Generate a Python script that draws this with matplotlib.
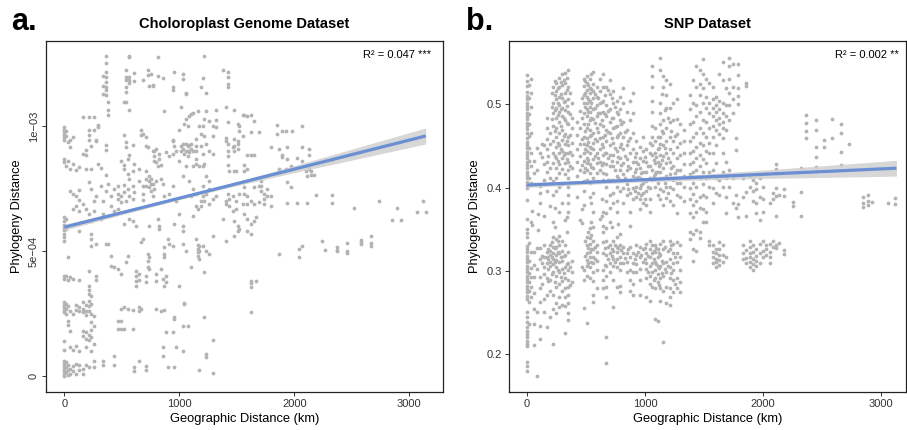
import numpy as np
import matplotlib
matplotlib.use("Agg")
import matplotlib.pyplot as plt

plt.rcParams['font.family'] = ['Liberation Sans', 'DejaVu Sans']

# ---- panel a: chloroplast genome (y in units of 1e-4) ----
# each entry: geographic distance (km), phylogeny distances at that distance
a_streaks = [
    (0, [9.95, 9.85, 9.75, 9.65, 9.55, 9.45, 8.7, 8.55, 6.35, 6.2, 6.05, 5.95, 5.85, 5.7, 5.55, 5.42,
         4.02, 3.9, 2.96, 2.85, 2.75, 2.65, 2.55, 1.42, 1.05, 0.62, 0.5, 0.4, 0.3, 0.2, 0.1, 0.02]),
    (15, [9.8, 9.6, 8.4, 6.3, 5.9, 4.0, 2.9, 2.7, 2.5, 0.55, 0.35, 0.15]),
    (30, [9.35, 8.6, 4.78, 3.85, 2.8, 2.2, 2.05, 0.45, 0.25, 0.05]),
    (50, [9.45, 9.18, 8.3, 7.4, 3.95, 2.6, 1.8, 1.15, 0.3, 0.1]),
    (75, [9.58, 8.5, 7.3, 6.7, 3.9, 2.5, 1.05, 0.4, 0.2]),
    (100, [8.25, 7.2, 6.8, 2.85, 2.65, 1.2, 0.5, 0.08]),
    (130, [8.35, 7.45, 7.05, 6.6, 5.82, 3.85, 2.75, 2.6, 1.0, 0.45, 0.25]),
    (160, [10.35, 8.9, 6.9, 2.95, 2.7, 2.55, 1.8, 1.6, 0.3, 0.1]),
    (190, [9.05, 8.85, 8.3, 6.7, 2.85, 2.6, 2.45, 1.75, 1.5, 1.15, 0.45]),
    (218, [10.36, 9.85, 9.65, 9.45, 7.78, 6.5, 4.22, 3.62, 3.45, 3.3, 3.02, 2.8, 2.6, 1.65, 1.45, 0.35]),
    (235, [9.2, 8.3, 7.5, 6.22, 5.69, 5.5, 5.22, 3.2, 2.9, 2.5, 2.15, 1.85, 1.55, 1.0]),
    (261, [10.36, 9.85, 7.0, 6.6, 2.4, 2.0, 1.3, 0.6, 0.35]),
    (276, [9.45, 9.4, 7.2, 5.3, 4.0, 3.85]),
    (290, [9.95, 10.05, 8.5]),
    (320, [8.32, 7.6, 6.3]),
    (340, [12.0, 11.6, 11.3, 7.0, 6.5, 0.62, 0.45]),
    (363, [12.81, 12.54, 12.18, 11.98, 11.78, 11.58, 11.45, 11.25, 9.25, 9.05, 8.05, 7.4, 5.3]),
    (377, [10.98, 10.65, 10.45, 7.7, 5.3]),
    (406, [7.2, 6.8, 4.42, 4.8]),
    (435, [7.5, 6.6, 4.35, 0.8, 0.45]),
    (464, [7.6, 7.3, 7.1, 6.7, 2.22, 1.89, 4.3]),
    (493, [8.6, 7.2, 6.95, 4.1, 2.7, 2.22, 1.89]),
    (523, [10.98, 9.65, 8.45, 8.3, 7.65, 7.35, 6.1, 2.75, 1.89]),
    (537, [12.25, 11.98, 11.85, 11.58, 11.38, 10.98, 9.35, 9.18, 4.56, 7.0]),
    (551, [4.8, 8.7, 8.1, 7.5, 2.7]),
    (566, [12.81, 12.78, 11.98, 11.85, 11.72, 10.65, 8.85, 7.9, 7.2, 6.3]),
    (595, [9.25, 8.2, 7.6, 7.1, 2.65, 1.89, 6.2]),
    (609, [12.12, 11.8, 8.5, 7.35, 0.35, 0.2]),
    (624, [4.22, 4.0, 3.8, 3.62, 6.0]),
    (653, [8.3, 7.8, 2.75, 2.6, 0.62, 4.1, 3.85]),
    (667, [9.85, 9.65, 5.35, 2.7]),
    (682, [11.85, 9.7, 7.6, 7.3, 7.05, 5.5]),
    (711, [9.58, 9.2, 8.2, 7.9, 7.6, 0.4, 0.25, 4.0, 3.75]),
    (725, [12.25, 12.05, 9.18, 4.9, 4.6, 4.35]),
    (740, [11.6, 8.0, 7.8, 7.55, 4.76, 4.3, 6.0]),
    (754, [12.1, 7.9, 7.7, 7.4]),
    (769, [11.65, 11.6, 9.0, 7.7, 7.2]),
    (783, [9.0, 8.8, 8.6, 7.5]),
    (798, [9.1, 8.55, 7.8, 2.7, 4.1, 3.8]),
    (812, [12.76, 12.0, 8.4, 6.3]),
    (827, [8.9, 8.7, 6.0, 5.9]),
    (841, [8.45, 7.9, 4.3, 2.6]),
    (856, [11.92, 7.7, 1.16, 0.8, 3.9]),
    (870, [10.61, 7.2, 5.15, 4.9, 4.76, 2.65, 3.6]),
    (885, [8.98, 1.76, 3.75, 4.0]),
    (899, [0.38, 5.5]),
    (914, [8.8, 7.3, 5.3]),
    (943, [11.58, 11.45, 9.45, 9.4, 8.9, 7.6, 1.76, 5.2]),
    (957, [12.18, 9.2, 2.36, 2.3, 0.38, 6.1]),
    (972, [9.0, 1.16, 7.0]),
    (995, [9.85, 8.6, 6.5, 3.6]),
    (1015, [10.78, 9.2, 9.0]),
    (1030, [12.1, 11.9, 9.3, 9.1, 8.0, 6.0, 5.8, 2.02, 1.0, 5.3]),
    (1044, [10.1, 8.9, 2.92, 2.9]),
    (1059, [11.32, 11.3, 10.3, 9.3, 9.0, 8.4, 5.0]),
    (1074, [10.0, 9.2, 9.0, 8.8, 2.02]),
    (1088, [10.4, 9.25, 8.95, 7.8]),
    (1105, [10.5, 9.3, 9.1, 4.35, 7.2]),
    (1117, [10.52, 9.0, 8.4, 7.5, 6.4]),
    (1146, [9.5, 9.2, 9.0, 8.7, 8.5, 7.3, 6.8, 5.5]),
    (1160, [10.6, 5.25, 5.1, 4.95, 4.8, 6.7]),
    (1175, [10.0, 8.4, 5.2, 5.0, 4.7, 0.25]),
    (1189, [11.58, 9.7, 9.2, 7.0, 6.8]),
    (1204, [11.92, 10.0, 8.9, 8.4, 7.6, 7.2, 5.2]),
    (1218, [12.81, 10.3, 9.6, 8.5, 7.0, 4.18, 2.36]),
    (1233, [11.32, 10.6, 9.3, 8.0, 7.3, 0.9, 0.75, 5.0]),
    (1262, [10.2, 9.0, 7.8, 7.5, 6.9, 4.9]),
    (1291, [10.0, 9.6, 8.9, 7.1, 5.62, 1.45, 0.12]),
    (1320, [10.65, 10.25, 9.98, 7.2]),
    (1378, [12.25, 6.3]),
    (1407, [10.78, 9.52, 9.4, 7.0, 6.9, 5.4]),
    (1421, [12.18, 11.95, 11.7, 11.58, 10.18, 9.3, 9.0, 8.8, 8.45, 7.3]),
    (1436, [8.2, 7.1, 6.8]),
    (1465, [9.18, 7.2, 6.6]),
    (1479, [10.65, 9.5, 9.2, 9.0, 8.2, 5.62, 6.2]),
    (1494, [8.2, 7.0, 6.7]),
    (1508, [10.1, 9.4, 9.3, 9.1, 6.0, 5.8]),
    (1523, [10.0, 9.8, 7.3, 5.9]),
    (1550, [10.45, 9.6, 6.9]),
    (1563, [10.45, 8.45, 8.2, 7.58, 7.3, 6.49]),
    (1592, [10.4, 8.85, 8.3, 7.2, 6.9, 6.3, 5.8]),
    (1621, [10.45, 9.78, 8.85, 7.0, 6.1, 5.7, 3.82, 3.74, 3.56, 2.58]),
    (1650, [10.2, 8.85, 7.58, 6.9, 6.2]),
    (1670, [3.81, 6.35]),
    (1693, [9.78, 6.95, 7.6]),
    (1708, [7.8, 7.6, 7.4]),
    (1737, [7.3, 7.1, 6.9]),
    (1766, [7.5, 7.2]),
    (1795, [9.18, 7.2, 6.8]),
    (1853, [10.05, 9.7]),
    (1864, [9.1, 8.3, 8.2, 4.89]),
    (1896, [9.8, 8.85, 8.75]),
    (1925, [9.8, 8.3]),
    (1940, [9.18, 8.7, 7.78, 6.94]),
    (1969, [7.58, 8.4]),
    (1983, [9.8, 8.3]),
    (2027, [8.72, 6.94]),
    (2041, [5.09, 4.76]),
    (2070, [10.01, 9.18, 8.6, 5.2]),
    (2099, [8.4, 8.2]),
    (2114, [6.94, 8.0]),
    (2128, [9.08, 8.85, 8.3]),
    (2143, [8.2, 8.05]),
    (2172, [8.05]),
    (2186, [7.25]),
    (2244, [5.4]),
    (2265, [5.05]),
    (2331, [8.65, 7.25, 6.94]),
    (2375, [5.16, 5.05, 5.0]),
    (2456, [5.32, 5.02, 4.92]),
    (2520, [6.72]),
    (2583, [5.45, 5.35, 5.29]),
    (2670, [5.62, 5.32, 5.22]),
    (2737, [7.02]),
    (2850, [6.26]),
    (2897, [6.72]),
    (2925, [6.26]),
    (3070, [6.58]),
    (3123, [7.02]),
    (3143, [6.58]),
]
a_fit_x = [0, 3143]
a_fit_y = [5.96, 9.61]
a_band_x = [0, 500, 1000, 1500, 2000, 2500, 3143]
a_band_half = [0.12, 0.08, 0.06, 0.08, 0.14, 0.22, 0.32]

# ---- panel b: SNP dataset ----
b_streaks = [
    (0, [0.535, 0.528, 0.522, 0.515, 0.51, 0.506, 0.502, 0.498, 0.494, 0.49, 0.486, 0.482, 0.478, 0.474,
         0.47, 0.466, 0.46, 0.455, 0.451, 0.447, 0.443, 0.439, 0.435, 0.431, 0.427, 0.423, 0.419, 0.415,
         0.411, 0.407, 0.403, 0.40, 0.385, 0.362, 0.35, 0.345, 0.34, 0.33, 0.326, 0.322, 0.318, 0.314,
         0.31, 0.306, 0.302, 0.298, 0.294, 0.29, 0.286, 0.282, 0.278, 0.274, 0.27, 0.266, 0.25, 0.245,
         0.238, 0.232, 0.228, 0.224, 0.22, 0.216, 0.212, 0.209, 0.19, 0.185, 0.18]),
    (15, [0.523, 0.507, 0.488, 0.476, 0.462, 0.447, 0.432, 0.412, 0.333, 0.312, 0.297, 0.287, 0.276, 0.263, 0.236]),
    (35, [0.531, 0.513, 0.497, 0.466, 0.441, 0.426, 0.406, 0.358, 0.322, 0.303, 0.292, 0.281, 0.268]),
    (45, [0.372, 0.355]),
    (60, [0.432, 0.417, 0.323, 0.307, 0.292, 0.273, 0.254, 0.236, 0.211]),
    (82, [0.447, 0.421, 0.327, 0.302, 0.251, 0.173]),
    (95, [0.368, 0.349]),
    (110, [0.442, 0.402, 0.394, 0.381, 0.327, 0.314, 0.292, 0.279, 0.262, 0.234, 0.218]),
    (125, [0.452, 0.437, 0.318, 0.309, 0.284]),
    (140, [0.451, 0.428, 0.409, 0.366, 0.331, 0.316, 0.304, 0.296, 0.266, 0.251]),
    (167, [0.483, 0.471, 0.458, 0.446, 0.431, 0.419, 0.396, 0.323, 0.317, 0.309, 0.291, 0.271, 0.232]),
    (180, [0.438, 0.326, 0.314, 0.302, 0.288]),
    (195, [0.466, 0.452, 0.424, 0.411, 0.378, 0.331, 0.324, 0.319, 0.311, 0.306, 0.289, 0.276, 0.245]),
    (210, [0.513, 0.497, 0.482, 0.334, 0.317, 0.296]),
    (223, [0.521, 0.502, 0.489, 0.474, 0.456, 0.441, 0.429, 0.408, 0.391, 0.358, 0.341, 0.329, 0.321,
           0.314, 0.308, 0.298, 0.271, 0.254, 0.212]),
    (237, [0.528, 0.511, 0.493, 0.468, 0.438, 0.376, 0.352, 0.327, 0.311, 0.286]),
    (250, [0.526, 0.516, 0.506, 0.496, 0.484, 0.472, 0.461, 0.449, 0.436, 0.424, 0.411, 0.396, 0.338,
           0.328, 0.319, 0.313, 0.304, 0.294, 0.281, 0.261, 0.249]),
    (262, [0.519, 0.501, 0.487, 0.453, 0.432, 0.336, 0.323, 0.301]),
    (275, [0.532, 0.521, 0.509, 0.499, 0.491, 0.479, 0.466, 0.451, 0.442, 0.428, 0.418, 0.401, 0.371,
           0.342, 0.331, 0.321, 0.311, 0.299, 0.284, 0.269, 0.256]),
    (288, [0.527, 0.512, 0.494, 0.474, 0.446, 0.316, 0.293]),
    (300, [0.536, 0.523, 0.507, 0.496, 0.486, 0.469, 0.457, 0.444, 0.436, 0.422, 0.404, 0.381, 0.336,
           0.324, 0.312, 0.302, 0.288, 0.276, 0.259]),
    (312, [0.529, 0.503, 0.483, 0.462, 0.439, 0.318, 0.297]),
    (325, [0.538, 0.526, 0.514, 0.504, 0.493, 0.481, 0.464, 0.452, 0.441, 0.429, 0.416, 0.361, 0.331,
           0.319, 0.304, 0.291, 0.279, 0.268, 0.258, 0.225]),
    (337, [0.532, 0.517, 0.498, 0.477, 0.456, 0.434, 0.365, 0.347, 0.308]),
    (350, [0.541, 0.521, 0.506, 0.491, 0.476, 0.461, 0.451, 0.441, 0.431, 0.421, 0.411, 0.401, 0.391,
           0.381, 0.371, 0.322, 0.309, 0.301, 0.289, 0.281, 0.271, 0.261, 0.249, 0.241]),
    (365, [0.513, 0.488, 0.463, 0.443, 0.426, 0.304, 0.283]),
    (380, [0.501, 0.484, 0.471, 0.454, 0.439, 0.424, 0.312, 0.299, 0.286]),
    (420, [0.479, 0.463, 0.446, 0.431, 0.414, 0.389]),
    (450, [0.492, 0.471, 0.452, 0.438, 0.421, 0.361]),
    (465, [0.507, 0.483, 0.458, 0.427, 0.374, 0.357, 0.304]),
    (480, [0.531, 0.522, 0.511, 0.502, 0.489, 0.476, 0.461, 0.452, 0.441, 0.432, 0.419, 0.408, 0.396,
           0.379, 0.301, 0.289, 0.255]),
    (493, [0.528, 0.514, 0.497, 0.468, 0.446, 0.423, 0.336, 0.318]),
    (505, [0.534, 0.526, 0.517, 0.509, 0.501, 0.494, 0.486, 0.472, 0.459, 0.451, 0.444, 0.436, 0.429,
           0.421, 0.409, 0.341, 0.331, 0.321, 0.313, 0.306, 0.294, 0.237]),
    (518, [0.523, 0.506, 0.491, 0.476, 0.455, 0.433, 0.347, 0.327, 0.309]),
    (530, [0.531, 0.519, 0.513, 0.504, 0.497, 0.491, 0.481, 0.469, 0.462, 0.449, 0.441, 0.428, 0.418,
           0.406, 0.389, 0.351, 0.339, 0.332, 0.323, 0.316, 0.304, 0.291]),
    (545, [0.536, 0.518, 0.501, 0.484, 0.463, 0.447, 0.425, 0.381, 0.358, 0.343, 0.326, 0.311]),
    (560, [0.539, 0.524, 0.516, 0.507, 0.494, 0.482, 0.466, 0.454, 0.446, 0.434, 0.424, 0.411, 0.394,
           0.371, 0.352, 0.336, 0.326, 0.317, 0.309, 0.299, 0.288, 0.271, 0.262]),
    (575, [0.512, 0.496, 0.478, 0.458, 0.438, 0.329, 0.314]),
    (590, [0.521, 0.509, 0.499, 0.486, 0.471, 0.456, 0.441, 0.429, 0.418, 0.408, 0.331, 0.322, 0.312,
           0.301, 0.279]),
    (605, [0.508, 0.489, 0.467, 0.436]),
    (618, [0.531, 0.516, 0.502, 0.489, 0.476, 0.459, 0.446, 0.431, 0.421, 0.362]),
    (632, [0.503, 0.481, 0.452, 0.427, 0.386, 0.366]),
    (646, [0.536, 0.521, 0.504, 0.491, 0.474, 0.461, 0.449, 0.439, 0.429, 0.418, 0.409, 0.371, 0.354,
           0.346, 0.334, 0.321, 0.301, 0.289, 0.279]),
    (660, [0.511, 0.488, 0.463, 0.442, 0.327, 0.307]),
    (674, [0.521, 0.499, 0.486, 0.469, 0.456, 0.441, 0.428, 0.416, 0.401, 0.384, 0.369, 0.351, 0.336,
           0.319, 0.306, 0.294, 0.281, 0.269, 0.221, 0.189]),
    (688, [0.517, 0.492, 0.467, 0.436, 0.409, 0.328, 0.314]),
    (703, [0.529, 0.512, 0.494, 0.479, 0.466, 0.451, 0.439, 0.426, 0.409, 0.391, 0.376, 0.359, 0.331,
           0.321, 0.309, 0.299]),
    (717, [0.508, 0.483, 0.459, 0.432, 0.353, 0.326, 0.318]),
    (730, [0.516, 0.501, 0.484, 0.471, 0.454, 0.439, 0.426, 0.409, 0.394, 0.381, 0.336, 0.324, 0.314,
           0.306, 0.289, 0.257]),
    (745, [0.497, 0.473, 0.448, 0.421, 0.331, 0.311]),
    (759, [0.504, 0.491, 0.474, 0.461, 0.444, 0.431, 0.414, 0.401, 0.384, 0.371, 0.341, 0.329, 0.323,
           0.314, 0.304, 0.281]),
    (773, [0.488, 0.463, 0.437, 0.411, 0.356, 0.327]),
    (787, [0.509, 0.494, 0.481, 0.466, 0.449, 0.436, 0.421, 0.409, 0.396, 0.344, 0.331, 0.317, 0.309,
           0.301, 0.282, 0.274]),
    (800, [0.476, 0.452, 0.427, 0.325]),
    (816, [0.519, 0.501, 0.479, 0.461, 0.446, 0.429, 0.416, 0.399, 0.381, 0.329, 0.321, 0.309]),
    (830, [0.467, 0.438, 0.412, 0.315]),
    (845, [0.491, 0.469, 0.451, 0.434, 0.421, 0.404, 0.391, 0.321, 0.311, 0.299]),
    (860, [0.456, 0.426, 0.398, 0.326]),
    (875, [0.504, 0.481, 0.459, 0.441, 0.424, 0.409, 0.394, 0.371, 0.354, 0.329, 0.316, 0.301, 0.289, 0.276]),
    (900, [0.514, 0.489, 0.466, 0.446, 0.431, 0.414, 0.399, 0.386, 0.321, 0.309, 0.298, 0.284, 0.271]),
    (915, [0.437, 0.419, 0.396, 0.314]),
    (928, [0.456, 0.441, 0.431, 0.422, 0.411, 0.401, 0.389, 0.331, 0.319, 0.308, 0.299]),
    (942, [0.428, 0.413, 0.394, 0.323]),
    (955, [0.449, 0.436, 0.424, 0.412, 0.399, 0.386, 0.374, 0.329, 0.316, 0.302, 0.289, 0.271]),
    (970, [0.418, 0.403, 0.391, 0.319]),
    (985, [0.461, 0.444, 0.432, 0.419, 0.406, 0.394, 0.381, 0.326, 0.311]),
    (1000, [0.437, 0.409, 0.386, 0.327, 0.314]),
    (1013, [0.446, 0.431, 0.419, 0.408, 0.396, 0.379, 0.332, 0.321, 0.309, 0.302, 0.291, 0.269]),
    (1027, [0.426, 0.401, 0.318, 0.298]),
    (1040, [0.454, 0.441, 0.426, 0.411, 0.399, 0.386, 0.371, 0.336, 0.326, 0.316, 0.306, 0.294, 0.284, 0.264]),
    (1060, [0.546, 0.534, 0.521, 0.504, 0.491, 0.474, 0.461, 0.451, 0.439, 0.421, 0.409, 0.331, 0.321,
            0.309, 0.299, 0.281]),
    (1073, [0.433, 0.414, 0.324, 0.314, 0.289]),
    (1085, [0.471, 0.456, 0.442, 0.429, 0.416, 0.401, 0.331, 0.322, 0.311, 0.301, 0.291, 0.279, 0.242]),
    (1098, [0.437, 0.419, 0.327, 0.308]),
    (1110, [0.461, 0.446, 0.431, 0.419, 0.406, 0.391, 0.326, 0.316, 0.306, 0.296, 0.286, 0.24]),
    (1120, [0.447, 0.426, 0.321, 0.303, 0.283]),
    (1130, [0.556, 0.541, 0.502, 0.489, 0.476, 0.461, 0.452, 0.439, 0.428, 0.419, 0.412, 0.398, 0.386,
            0.332, 0.319, 0.306, 0.291, 0.279, 0.264]),
    (1143, [0.512, 0.468, 0.433, 0.312, 0.297]),
    (1155, [0.534, 0.521, 0.481, 0.466, 0.451, 0.438, 0.424, 0.411, 0.396, 0.379, 0.336, 0.326, 0.309,
            0.294, 0.276, 0.214]),
    (1168, [0.493, 0.447, 0.406, 0.328, 0.302]),
    (1182, [0.529, 0.511, 0.496, 0.471, 0.456, 0.441, 0.429, 0.414, 0.401, 0.388, 0.311, 0.299, 0.281, 0.261]),
    (1196, [0.483, 0.436, 0.394, 0.324, 0.306]),
    (1210, [0.524, 0.496, 0.479, 0.461, 0.446, 0.431, 0.416, 0.401, 0.384, 0.336, 0.326, 0.314, 0.304,
            0.291, 0.279, 0.269, 0.259]),
    (1225, [0.468, 0.423, 0.331, 0.297]),
    (1240, [0.501, 0.481, 0.456, 0.441, 0.426, 0.409, 0.398, 0.379, 0.332, 0.321, 0.309, 0.301, 0.289, 0.274]),
    (1255, [0.462, 0.417, 0.316, 0.284]),
    (1270, [0.506, 0.482, 0.464, 0.449, 0.436, 0.421, 0.406, 0.391, 0.369, 0.334, 0.321, 0.311, 0.291, 0.279]),
    (1300, [0.476, 0.454, 0.439, 0.421, 0.406, 0.389, 0.331, 0.316, 0.301, 0.286, 0.274]),
    (1330, [0.469, 0.456, 0.441, 0.428, 0.414, 0.401, 0.384]),
    (1380, [0.511, 0.494, 0.476, 0.456, 0.441, 0.428, 0.416, 0.399, 0.386, 0.369, 0.346, 0.338]),
    (1407, [0.529, 0.502, 0.479, 0.461, 0.444, 0.431, 0.419, 0.406, 0.392, 0.379, 0.364, 0.344, 0.326, 0.312]),
    (1435, [0.546, 0.521, 0.499, 0.486, 0.466, 0.449, 0.436, 0.421, 0.401, 0.384, 0.371, 0.349, 0.324]),
    (1465, [0.541, 0.524, 0.511, 0.491, 0.471, 0.454, 0.439, 0.426, 0.411, 0.389, 0.376, 0.346, 0.339]),
    (1492, [0.554, 0.536, 0.519, 0.501, 0.481, 0.466, 0.451, 0.434, 0.419, 0.404, 0.391, 0.374, 0.359]),
    (1520, [0.531, 0.509, 0.496, 0.479, 0.461, 0.444, 0.429, 0.411, 0.389, 0.371, 0.358]),
    (1545, [0.526, 0.501, 0.489, 0.471, 0.454, 0.441, 0.419, 0.401, 0.336, 0.331]),
    (1577, [0.521, 0.506, 0.496, 0.486, 0.474, 0.461, 0.441, 0.421, 0.399, 0.381, 0.331, 0.323, 0.316, 0.309]),
    (1605, [0.509, 0.499, 0.491, 0.481, 0.469, 0.451, 0.429, 0.411, 0.394, 0.326, 0.321, 0.314, 0.311, 0.304]),
    (1630, [0.536, 0.504, 0.494, 0.484, 0.476, 0.464, 0.409, 0.391, 0.334, 0.326, 0.319, 0.313, 0.307]),
    (1660, [0.551, 0.529, 0.501, 0.489, 0.479, 0.471, 0.459, 0.441, 0.419, 0.401, 0.331, 0.319, 0.311]),
    (1690, [0.519, 0.499, 0.486, 0.469, 0.431, 0.411, 0.389, 0.369, 0.316]),
    (1710, [0.556, 0.546, 0.531, 0.514, 0.499, 0.481, 0.421, 0.401]),
    (1746, [0.549, 0.521, 0.506, 0.489, 0.411, 0.381]),
    (1776, [0.459, 0.445, 0.391, 0.375]),
    (1790, [0.548, 0.535, 0.52, 0.51, 0.5, 0.38, 0.365]),
    (1830, [0.411, 0.389, 0.331, 0.321, 0.314]),
    (1858, [0.526, 0.522, 0.395, 0.366, 0.325, 0.315, 0.309]),
    (1887, [0.414, 0.401, 0.336, 0.328, 0.321, 0.316, 0.311, 0.304]),
    (1915, [0.409, 0.396, 0.384, 0.331, 0.322, 0.314, 0.308, 0.301]),
    (1945, [0.406, 0.398, 0.381, 0.369, 0.326, 0.318, 0.312, 0.306]),
    (1972, [0.411, 0.389, 0.361, 0.332, 0.321, 0.309]),
    (2000, [0.401, 0.386, 0.371, 0.336, 0.324, 0.316]),
    (2030, [0.331, 0.326, 0.319]),
    (2060, [0.381, 0.332, 0.323, 0.316, 0.309]),
    (2090, [0.394, 0.386, 0.336, 0.329]),
    (2113, [0.428, 0.422, 0.4, 0.39, 0.366, 0.331, 0.327]),
    (2140, [0.391, 0.333]),
    (2177, [0.398, 0.39, 0.325, 0.32]),
    (2253, [0.383, 0.378]),
    (2326, [0.424, 0.395, 0.366]),
    (2366, [0.487, 0.478, 0.468, 0.459]),
    (2453, [0.481, 0.469, 0.449, 0.437, 0.425]),
    (2515, [0.457, 0.449]),
    (2586, [0.482, 0.46]),
    (2665, [0.476, 0.466, 0.443, 0.427]),
    (2732, [0.452]),
    (2846, [0.389, 0.382, 0.377]),
    (2890, [0.391, 0.384, 0.379]),
    (2924, [0.383]),
    (3065, [0.382]),
    (3121, [0.388, 0.38]),
]
b_fit_x = [0, 3133]
b_fit_y = [0.403, 0.4232]
b_band_x = [0, 500, 1000, 1500, 2000, 2500, 3133]
b_band_half = [0.003, 0.0025, 0.0026, 0.0035, 0.005, 0.007, 0.0095]


def flatten(streaks):
    xs, ys = [], []
    for x, col in streaks:
        xs += [x] * len(col)
        ys += col
    return np.array(xs, float), np.array(ys, float)


point_col = "#B3B3B3"
line_col = "#6A8FD2"
band_col = "#D0D0D0"
frame_col = "#222222"
tick_col = "#333333"

fig = plt.figure(figsize=(9.07, 4.30), dpi=100)
ax_a = fig.add_axes([0.0504, 0.0891, 0.4380, 0.8162])
ax_b = fig.add_axes([0.5609, 0.0891, 0.4376, 0.8162])


def draw_panel(ax, streaks, fit_x, fit_y, band_x, band_half):
    xs, ys = flatten(streaks)
    ax.scatter(xs, ys, s=7.5, c=point_col, linewidths=0, zorder=2)
    bx = np.array(band_x, float)
    by = np.interp(bx, fit_x, fit_y)
    bh = np.array(band_half)
    ax.fill_between(bx, by - bh, by + bh, color=band_col, lw=0, zorder=3, alpha=0.85)
    ax.plot(fit_x, fit_y, color=line_col, lw=2.3, zorder=4, solid_capstyle="butt")
    for sp in ax.spines.values():
        sp.set_color(frame_col)
        sp.set_linewidth(0.9)
    ax.tick_params(axis="both", length=3, width=0.7, color=tick_col,
                   labelcolor=tick_col, labelsize=8, pad=2)
    ax.set_xticks([0, 1000, 2000, 3000])
    ax.set_xlabel("Geographic Distance (km)", fontsize=9.3, labelpad=3)
    ax.set_ylabel("Phylogeny Distance", fontsize=9.3, labelpad=4)


# panel a
draw_panel(ax_a, a_streaks, a_fit_x, a_fit_y, a_band_x, a_band_half)
ax_a.set_xlim(-162, 3293)
ax_a.set_ylim(-0.62, 13.42)
ax_a.set_yticks([0, 5, 10])
ax_a.set_yticklabels(["0", "5e\u221204", "1e\u221203"], rotation=90, va="center")
ax_a.set_title("Choloroplast Genome Dataset", fontsize=10.5, fontweight="bold", pad=9)
ax_a.text(0.969, 0.951, "R\u00b2 = 0.047 ***", transform=ax_a.transAxes,
          ha="right", va="baseline", fontsize=8)

# panel b
draw_panel(ax_b, b_streaks, b_fit_x, b_fit_y, b_band_x, b_band_half)
ax_b.set_xlim(-155, 3211)
ax_b.set_ylim(0.1547, 0.5764)
ax_b.set_yticks([0.2, 0.3, 0.4, 0.5])
ax_b.set_yticklabels(["0.2", "0.3", "0.4", "0.5"])
ax_b.set_title("SNP Dataset", fontsize=10.5, fontweight="bold", pad=9)
ax_b.text(0.982, 0.951, "R\u00b2 = 0.002 **", transform=ax_b.transAxes,
          ha="right", va="baseline", fontsize=8)

fig.text(0.012, 0.93, "a.", fontsize=22, fontweight="bold", va="baseline")
fig.text(0.514, 0.93, "b.", fontsize=22, fontweight="bold", va="baseline")

fig.savefig("out.png", dpi=100)
